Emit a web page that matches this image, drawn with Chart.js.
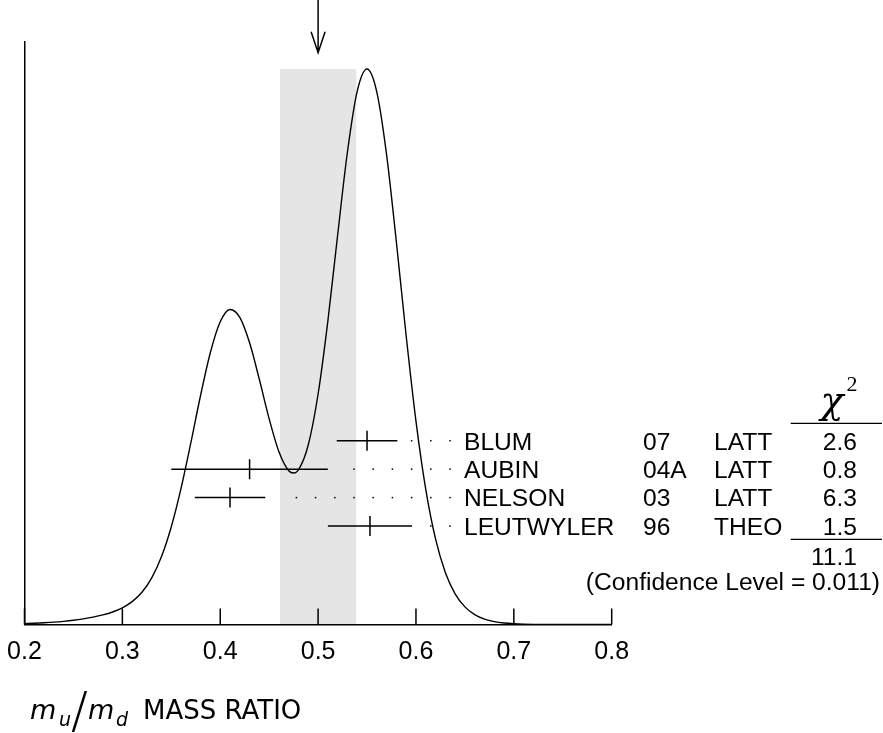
<!DOCTYPE html>
<html><head><meta charset="utf-8">
<script src="https://cdn.jsdelivr.net/npm/chart.js@4"></script>
<style>html,body{margin:0;padding:0;background:#fff;overflow:hidden;}#wrap{width:883px;height:733px;}</style>
</head><body><div id="wrap"><canvas id="c" width="883" height="733"></canvas></div>
<script>
// ---- data ----
const curveX = [0.20,0.21,0.22,0.23,0.24,0.25,0.26,0.27,0.28,0.29,0.30,0.31,0.32,0.33,0.34,0.35,0.36,0.37,0.38,0.39,0.40,0.41,0.42,0.43,0.44,0.45,0.46,0.47,0.475,0.48,0.49,0.50,0.51,0.52,0.53,0.54,0.55,0.56,0.57,0.58,0.59,0.60,0.61,0.62,0.63,0.64,0.65,0.66,0.67,0.68,0.69,0.70,0.71,0.72,0.73,0.74,0.75,0.76,0.77,0.78,0.79,0.80];
const curveY = [0.0015,0.0022,0.0031,0.0042,0.0057,0.0076,0.0101,0.0132,0.0172,0.0225,0.0300,0.0411,0.0580,0.0839,0.1223,0.1761,0.2456,0.3275,0.4132,0.4902,0.5450,0.5672,0.5530,0.5071,0.4410,0.3703,0.3110,0.2768,0.2727,0.2786,0.3237,0.4150,0.5467,0.7017,0.8511,0.9603,1.0000,0.9585,0.8454,0.6882,0.5194,0.3662,0.2433,0.1540,0.0937,0.0553,0.0317,0.0177,0.0096,0.0051,0.0026,0.0013,0.0006,0.0003,0.0002,0.0001,0,0,0,0,0,0];
const names   = ['BLUM','AUBIN','NELSON','LEUTWYLER'];
const years   = ['07','04A','03','96'];
const methods = ['LATT','LATT','LATT','THEO'];
const values  = [0.550,0.43,0.410,0.553];
const errors  = [0.031,0.08,0.036,0.043];
const chi2    = ['2.6','0.8','6.3','1.5'];
const chi2Total = '11.1';
const confLevel = '(Confidence Level = 0.011)';
const average = 0.50;
const averageError = 0.039;
const tickValues = [0.2,0.3,0.4,0.5,0.6,0.7,0.8];
const tickLabels = ['0.2','0.3','0.4','0.5','0.6','0.7','0.8'];

// ---- layout constants ----
const SANS = '"Liberation Sans", Arial, Helvetica, sans-serif';
const rowTop = 440.7, rowStep = 28.45;
const colName = 464, colYear = 643, colMeth = 714, colChi = 857;

const bandPlugin = {
  id: 'band',
  beforeDraw(chart) {
    const {ctx, scales: {x, y}} = chart;
    const top = Math.max(...curveY);
    const x0 = x.getPixelForValue(average - averageError);
    const x1 = x.getPixelForValue(average + averageError);
    const y0 = y.getPixelForValue(0), y1 = y.getPixelForValue(top);
    ctx.save();
    ctx.fillStyle = '#e5e5e5';
    ctx.fillRect(x0, y1, x1 - x0, y0 - y1);
    ctx.restore();
  }
};

const decorPlugin = {
  id: 'decor',
  afterDraw(chart) {
    const {ctx, scales: {x, y}} = chart;
    const base = y.getPixelForValue(0);
    ctx.save();
    ctx.strokeStyle = '#000'; ctx.fillStyle = '#000'; ctx.lineWidth = 1.5;
    // inward ticks
    tickValues.forEach(v => {
      const px = x.getPixelForValue(v);
      ctx.beginPath(); ctx.moveTo(px, base); ctx.lineTo(px, base - 16); ctx.stroke();
    });
    // arrow at the average
    const ax = x.getPixelForValue(average);
    ctx.beginPath(); ctx.moveTo(ax, 0); ctx.lineTo(ax, 52.7);
    ctx.moveTo(ax - 7, 31.7); ctx.lineTo(ax, 52.7); ctx.lineTo(ax + 7, 31.7); ctx.stroke();
    // error bars, leaders, table
    ctx.font = '24.6px ' + SANS;
    ctx.textBaseline = 'alphabetic';
    values.forEach((v, i) => {
      const ry = rowTop + i * rowStep;
      const lo = x.getPixelForValue(v - errors[i]);
      const hi = x.getPixelForValue(v + errors[i]);
      const c = x.getPixelForValue(v);
      ctx.lineWidth = 1.5;
      ctx.beginPath(); ctx.moveTo(lo, ry); ctx.lineTo(hi, ry);
      ctx.moveTo(c, ry - 10); ctx.lineTo(c, ry + 10); ctx.stroke();
      for (let dx = 450; dx > hi + 12; dx -= 19.2) ctx.fillRect(dx - 0.75, ry - 0.75, 1.5, 1.5);
      const by = ry + 8.8;
      ctx.textAlign = 'left';
      ctx.fillText(names[i], colName, by);
      ctx.fillText(years[i], colYear, by);
      ctx.fillText(methods[i], colMeth, by);
      ctx.textAlign = 'right';
      ctx.fillText(chi2[i], colChi, by);
    });
    ctx.textAlign = 'right';
    ctx.fillText(chi2Total, colChi, 565);
    ctx.fillText(confLevel, 880, 590);
    ctx.lineWidth = 1.2;
    ctx.beginPath(); ctx.moveTo(790.7, 423.3); ctx.lineTo(882, 423.3);
    ctx.moveTo(790.7, 539.3); ctx.lineTo(882, 539.3); ctx.stroke();
    // chi^2 header
    ctx.textAlign = 'center';
    ctx.font = 'italic 38px "DejaVu Serif", "Liberation Serif", serif';
    ctx.fillText('\u03C7', 832, 413);
    ctx.textAlign = 'left';
    ctx.font = '22px "Liberation Serif", "Times New Roman", serif';
    ctx.fillText('2', 846.5, 391);
    // axis title
    const DV = '"DejaVu Sans", sans-serif';
    ctx.font = 'italic 27px ' + DV; ctx.fillText('m', 30, 719);
    ctx.font = 'italic 19px ' + DV; ctx.fillText('u', 59, 726);
    ctx.font = '200 50px ' + DV; ctx.fillText('/', 71, 727);
    ctx.font = 'italic 27px ' + DV; ctx.fillText('m', 88, 719);
    ctx.font = 'italic 19px ' + DV; ctx.fillText('d', 116, 726);
    ctx.font = '26px ' + DV; ctx.fillText('MASS RATIO', 143, 719);
    ctx.restore();
  }
};

new Chart(document.getElementById('c'), {
  type: 'line',
  data: {
    datasets: [{
      data: curveX.map((v, i) => ({x: v, y: curveY[i]})),
      borderColor: '#000', borderWidth: 1.4, pointRadius: 0,
      cubicInterpolationMode: 'monotone', fill: false
    }]
  },
  options: {
    responsive: false, animation: false, devicePixelRatio: 1,
    layout: {padding: {left: 24.5, right: 271.3, top: 42, bottom: 68.5}},
    plugins: {legend: {display: false}, tooltip: {enabled: false}},
    scales: {
      x: {
        type: 'linear', min: 0.2, max: 0.8,
        grid: {display: false, drawTicks: false},
        border: {display: true, color: '#000', width: 1.5},
        afterBuildTicks: s => { s.ticks = tickValues.map(v => ({value: v})); },
        afterFit: s => { s.height = 40; s.paddingLeft = 0; s.paddingRight = 0; },
        ticks: {
          color: '#000', font: {family: SANS, size: 25}, padding: 13,
          maxRotation: 0, autoSkip: false,
          callback: (v) => { const i = tickValues.findIndex(t => Math.abs(t - v) < 1e-9); return i >= 0 ? tickLabels[i] : ''; }
        }
      },
      y: {
        type: 'linear', min: 0, max: 1.0487,
        grid: {display: false, drawTicks: false},
        border: {display: true, color: '#000', width: 1.5},
        ticks: {display: false},
        afterFit: s => { s.width = 0; s.paddingTop = 0; s.paddingBottom = 0; }
      }
    }
  },
  plugins: [bandPlugin, decorPlugin]
});
</script></body></html>
